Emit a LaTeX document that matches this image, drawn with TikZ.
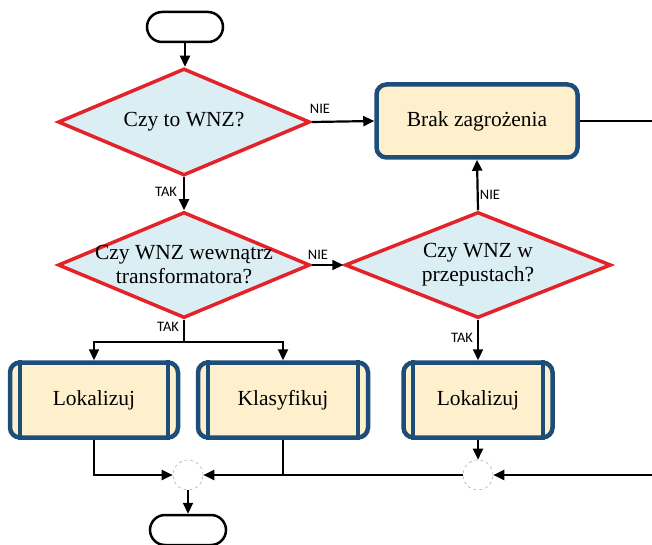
\documentclass[tikz,border=0pt]{standalone}
\usepackage{fontspec}
\setmainfont{Liberation Serif}
\newfontfamily\labfont{Carlito}
\usetikzlibrary{shapes.geometric,arrows.meta,calc}
\definecolor{dred}{HTML}{E4222A}
\definecolor{dfill}{HTML}{DBEEF4}
\definecolor{bfill}{HTML}{FEF0CD}
\definecolor{bblue}{HTML}{1D4E7A}
\tikzset{
  decision/.style={diamond,draw=dred,fill=dfill,line width=3.5pt,inner sep=0pt,line join=miter},
  procbox/.style={rectangle,rounded corners=10pt,draw=bblue,fill=bfill,line width=4.5pt,inner sep=0pt,font=\fontsize{21.5}{24}\selectfont},
  term/.style={rectangle,rounded corners=15pt,draw=black,fill=white,line width=2.5pt,minimum width=76pt,minimum height=30pt,inner sep=0pt},
  junct/.style={circle,draw=gray!60,dashed,fill=white,line width=0.6pt,minimum size=30pt,inner sep=0pt},
  conn/.style={line width=2.2pt,draw=black},
  arr/.style={conn,-{Triangle[length=11pt,width=10pt]}},
  lab/.style={font=\labfont\fontsize{14.5}{15}\selectfont,inner sep=0pt},
  dtext/.style={font=\fontsize{21.5}{24}\selectfont,align=center}
}
\begin{document}
\begin{tikzpicture}[x=1pt,y=-1pt]
\useasboundingbox (0,0) rectangle (652,545);
\clip (0,0) rectangle (652,545);
% nodes
\node[term] (t1) at (185,27) {};
\node[decision,minimum width=252pt,minimum height=107pt,label={[dtext]center:Czy to WNZ?}] (d1) at (184,122) {};
\node[procbox,minimum width=201pt,minimum height=73pt] (brak) at (477,121) {Brak zagrożenia};
\node[decision,minimum width=252pt,minimum height=106pt,label={[dtext]center:Czy WNZ wewnątrz\\transformatora?}] (d2) at (184,265) {};
\node[decision,minimum width=266pt,minimum height=106pt,label={[dtext]center:Czy WNZ w\\przepustach?}] (d3) at (478,265) {};
\node[procbox,minimum width=168pt,minimum height=75pt] (l1) at (94,400) {Lokalizuj};
\node[procbox,minimum width=170pt,minimum height=75pt] (kl) at (283,400) {Klasyfikuj};
\node[procbox,minimum width=149pt,minimum height=75pt] (l2) at (478,400) {Lokalizuj};
\foreach \n in {l1,kl,l2}{
  \draw[bblue,line width=4pt] ([xshift=12pt]\n.north west) -- ([xshift=12pt]\n.south west);
  \draw[bblue,line width=4pt] ([xshift=-12pt]\n.north east) -- ([xshift=-12pt]\n.south east);
}
\node[junct] (j1) at (188,475) {};
\node[junct] (j2) at (478,475) {};
\node[term] (t2) at (188,530) {};
\coordinate (rtop) at (652,121);
\coordinate (rbot) at (652,475);
\coordinate (split) at (184,342);
% connectors
\draw[arr] (t1.south) -- (t1.south |- d1.north);
\draw[arr] (d1.east) -- (brak.west);
\draw[arr] (d1.south) -- (d2.north);
\draw[arr] (d2.east) -- (d3.west);
\draw[arr] (d3.north) -- (brak.south);
\draw[arr] (d3.south) -- (l2.north);
\draw[conn] (d2.south) -- (split);
\draw[arr] (split) -| (l1.north);
\draw[arr] (split) -| (kl.north);
\draw[arr] (l1.south) |- (j1.west);
\draw[conn] (kl.south) -- (kl.south |- j1.east);
\draw[arr] (j2.west) -- (j1.east);
\draw[arr] (l2.south) -- (j2.north);
\draw[arr] (rbot) -- (j2.east);
\draw[conn] (brak.east) -- (rtop);
\draw[arr] (j1.south) -- (t2.north);
% labels
\node[lab] at (320,109) {NIE};
\node[lab] at (166,192) {TAK};
\node[lab] at (318,255) {NIE};
\node[lab] at (168,327) {TAK};
\node[lab] at (490,195) {NIE};
\node[lab] at (462,338) {TAK};
\end{tikzpicture}
\end{document}
